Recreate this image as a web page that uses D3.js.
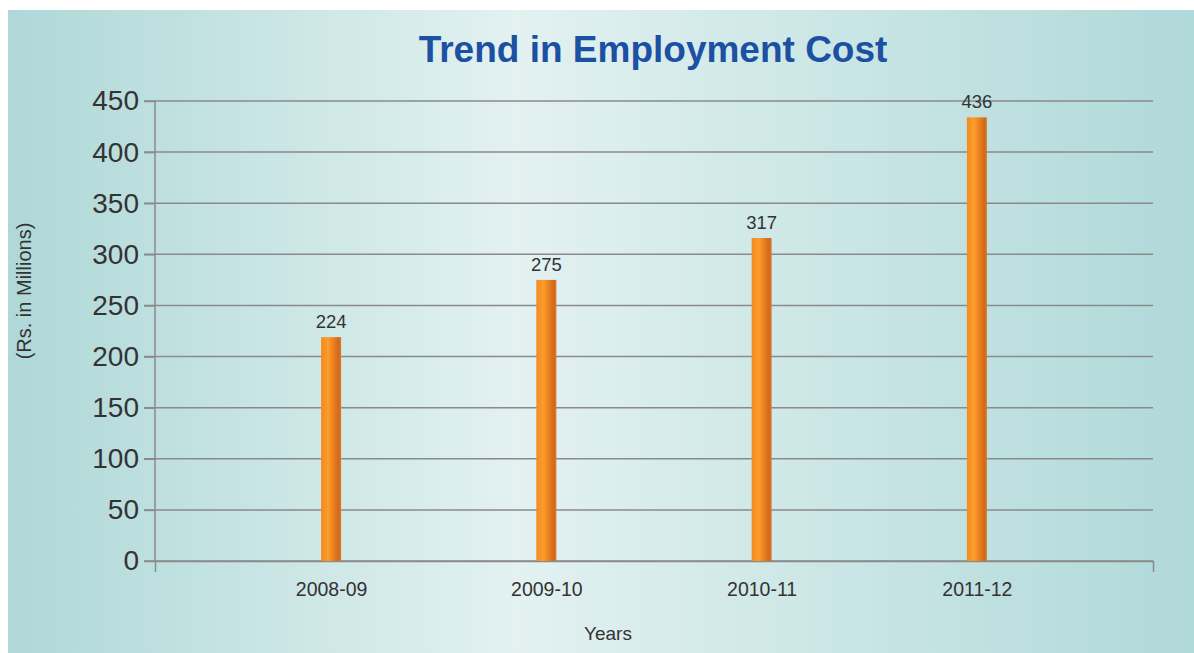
<!DOCTYPE html>
<html>
<head>
<meta charset="utf-8">
<style>
    body { margin: 0; background: #fff; }
    svg { display: block; }
    .axis text { font-family: "Liberation Sans", Arial, sans-serif; fill: #333; }
    .axis path, .axis line { stroke: #8a8a8a; stroke-width: 1.5px; }
    .grid line { stroke: #8a8a8a; stroke-width: 1.5px; }
    .lbl { font-family: "Liberation Sans", Arial, sans-serif; fill: #333; }
</style>
</head>
<body>
<div id="chart"></div>
<script src="https://cdn.jsdelivr.net/npm/d3@7"></script>
<script>
    // data
    const years = ["2008-09", "2009-10", "2010-11", "2011-12"];
    const barValues = [219, 275, 316, 434];      // height the bars are drawn at
    const valueLabels = ["224", "275", "317", "436"]; // numbers printed above them
    const yTicks = [0, 50, 100, 150, 200, 250, 300, 350, 400, 450];

    const W = 1194, H = 653;
    const margin = { top: 101, left: 155, right: 41, bottom: 92 };
    const width = W - margin.left - margin.right;
    const height = H - margin.top - margin.bottom;

    const svg = d3.select("#chart").append("svg")
        .attr("width", W).attr("height", H);

    const defs = svg.append("defs");
    const bg = defs.append("linearGradient").attr("id", "bg")
        .attr("x1", "0%").attr("x2", "100%").attr("y1", "0%").attr("y2", "0%");
    bg.append("stop").attr("offset", "0%").attr("stop-color", "#afd8d8");
    bg.append("stop").attr("offset", "43%").attr("stop-color", "#e3f1f1");
    bg.append("stop").attr("offset", "100%").attr("stop-color", "#b0d9d9");

    const barGrad = defs.append("linearGradient").attr("id", "bar")
        .attr("x1", "0%").attr("x2", "100%").attr("y1", "0%").attr("y2", "0%");
    [["0%", "#f5891e"], ["35%", "#fb9d2c"], ["60%", "#ec8220"], ["88%", "#cf691c"], ["100%", "#dc7b24"]]
        .forEach(s => barGrad.append("stop").attr("offset", s[0]).attr("stop-color", s[1]));

    // panel
    svg.append("rect").attr("x", 8).attr("y", 10)
        .attr("width", W - 8).attr("height", H - 10)
        .attr("fill", "url(#bg)");

    const g = svg.append("g").attr("transform", "translate(" + margin.left + ",0)");

    const x = d3.scalePoint().domain(years).range([0, width]).padding(0.818);
    const y = d3.scaleLinear().domain([0, 450]).range([margin.top + height, margin.top]);

    // horizontal grid lines
    g.append("g").attr("class", "grid")
        .selectAll("line").data(yTicks).enter().append("line")
        .attr("x1", -11).attr("x2", width)
        .attr("y1", d => y(d)).attr("y2", d => y(d));

    // y axis labels
    const yAxis = g.append("g").attr("class", "axis")
        .call(d3.axisLeft(y).tickValues(yTicks).tickSize(11).tickPadding(5));
    yAxis.select(".domain").remove();
    yAxis.selectAll("text").style("font-size", "28px");

    // vertical axis line
    g.append("line").attr("class", "axisline")
        .attr("x1", 0).attr("x2", 0)
        .attr("y1", y(450)).attr("y2", y(0))
        .attr("stroke", "#8a8a8a").attr("stroke-width", 1.5);

    // x axis
    const xAxis = g.append("g").attr("class", "axis")
        .attr("transform", "translate(0," + y(0) + ")")
        .call(d3.axisBottom(x).tickSizeInner(0).tickSizeOuter(11).tickPadding(21));
    xAxis.selectAll("text").style("font-size", "19.5px");

    // bars
    const barW = 20;
    g.selectAll(".bar").data(years).enter().append("rect")
        .attr("class", "bar")
        .attr("x", d => x(d) - barW / 2)
        .attr("width", barW)
        .attr("y", (d, i) => y(barValues[i]))
        .attr("height", (d, i) => y(0) - y(barValues[i]))
        .attr("fill", "url(#bar)");

    g.selectAll(".val").data(years).enter().append("text")
        .attr("class", "lbl val")
        .attr("x", d => x(d))
        .attr("y", (d, i) => y(barValues[i]) - 9)
        .attr("text-anchor", "middle")
        .style("font-size", "18.5px")
        .text((d, i) => valueLabels[i]);

    // title
    svg.append("text")
        .attr("x", 653).attr("y", 62)
        .attr("text-anchor", "middle")
        .style("font-family", "'Liberation Sans', Arial, sans-serif")
        .style("font-weight", "bold")
        .style("font-size", "37px")
        .attr("fill", "#1c50a2")
        .text("Trend in Employment Cost");

    // axis titles
    svg.append("text").attr("class", "lbl")
        .attr("transform", "translate(31,291) rotate(-90)")
        .attr("text-anchor", "middle")
        .style("font-size", "20px")
        .text("(Rs. in Millions)");

    svg.append("text").attr("class", "lbl")
        .attr("x", 608).attr("y", 640)
        .attr("text-anchor", "middle")
        .style("font-size", "19px")
        .text("Years");
</script>
</body>
</html>
